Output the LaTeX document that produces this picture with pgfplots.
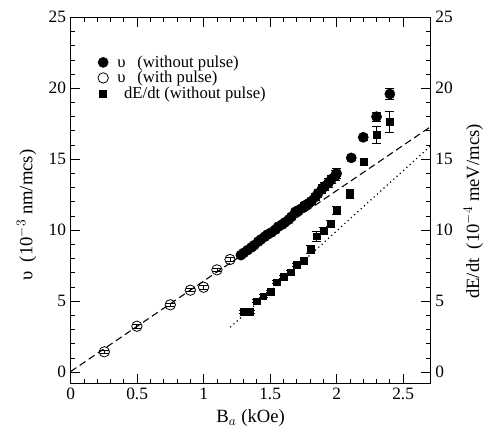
\documentclass[border=0pt]{standalone}
\usepackage{pgfplots}
\pgfplotsset{compat=1.18}
\usepackage{fontspec}
\setmainfont{Liberation Serif}

\pgfplotstableread{
x y ey
1.28 8.25 0.1
1.30 8.40 0.1
1.33 8.60 0.1
1.36 8.80 0.1
1.38 8.95 0.1
1.41 9.20 0.1
1.43 9.35 0.1
1.46 9.55 0.1
1.48 9.70 0.1
1.51 9.85 0.1
1.54 10.05 0.1
1.56 10.25 0.1
1.59 10.40 0.1
1.61 10.55 0.15
1.64 10.75 0.15
1.66 10.95 0.15
1.69 11.30 0.15
1.71 11.40 0.15
1.74 11.55 0.2
1.76 11.75 0.2
1.79 11.90 0.2
1.81 12.05 0.2
1.84 12.35 0.25
1.86 12.60 0.25
1.89 12.90 0.3
1.91 13.10 0.3
1.94 13.35 0.3
1.96 13.60 0.3
1.99 13.85 0.35
2.00 14.00 0.35
2.11 15.10 0.2
2.20 16.55 0.2
2.30 18.00 0.3
2.40 19.60 0.4
}\withoutpulse

\pgfplotstableread{
x y ey
0.253 1.44 0.12
0.498 3.24 0.12
0.749 4.75 0.12
0.900 5.78 0.12
1.000 5.99 0.12
1.100 7.21 0.12
1.198 7.94 0.12
}\withpulse

\pgfplotstableread{
x y ey
1.30 4.23 0.1
1.35 4.23 0.1
1.398 5.00 0.1
1.448 5.35 0.1
1.504 5.70 0.1
1.549 6.34 0.1
1.600 6.72 0.1
1.654 7.04 0.1
1.700 7.58 0.1
1.754 7.87 0.1
1.804 8.64 0.3
1.850 9.58 0.35
1.900 9.98 0.2
1.955 10.47 0.2
2.000 11.40 0.3
2.100 12.58 0.3
2.205 14.85 0.15
2.300 16.74 0.6
2.400 17.63 0.75
}\dEdt

\pgfplotsset{
  myerr/.style={error bars/.cd, y dir=both, y explicit,
    error mark options={rotate=90, mark size=3.3pt, line width=0.6pt, solid},
    error bar style={line width=0.6pt, solid}},
}

\begin{document}
\begin{tikzpicture}
\begin{axis}[
  name=main,
  scale only axis, width=270pt, height=274.7pt,
  xmin=0, xmax=2.707, ymin=-0.8, ymax=25,
  xtick={0,0.5,1,1.5,2,2.5}, ytick={0,5,10,15,20,25},
  minor x tick num=4, minor y tick num=4,
  tick align=inside,
  major tick length=7pt, minor tick length=3.5pt,
  every tick/.style={black, line width=0.6pt},
  axis line style={line width=0.8pt},
  /pgf/number format/assume math mode=true,
  tick label style={font=\fontsize{13}{15}\selectfont},
  xlabel={B$_{a}$ (kOe)},
  ylabel={υ\ \ (10$^{-3}$ nm/mcs)},
  every axis x label/.style={at={(rel axis cs:0.5,0)}, yshift=-29pt, anchor=base, font=\fontsize{14}{16}\selectfont},
  every axis y label/.style={at={(rel axis cs:0,0.46)}, xshift=-33pt, rotate=90, anchor=center, font=\fontsize{14}{16}\selectfont},
  legend cell align=left,
  legend style={draw=none, fill=none, at={(rel axis cs:0.064,0.909)}, anchor=north west,
    font=\fontsize{12.5}{14}\selectfont, row sep=-1.5pt, nodes={inner sep=1.5pt}},
  legend image code/.code={\draw[#1] plot coordinates {(0.15cm,0cm)}; \path (0.15cm,0cm) ++(9pt,0pt);},
]
\addplot[black, dash pattern=on 5.2pt off 3pt, line width=0.8pt, forget plot] coordinates {(0,0.05) (2.707,17.3)};
\addplot[black, dash pattern=on 0.9pt off 2.4pt, line width=0.9pt, forget plot] coordinates {(1.2,3.17) (2.707,15.95)};
\addplot[only marks, mark=*, mark size=3.8pt, black, myerr] table[x=x, y=y, y error=ey] {\withoutpulse};
\addlegendentry{υ\hspace{0.7em}(without pulse)}
\addplot[only marks, mark=o, mark size=3.9pt, black, mark options={line width=0.6pt}, myerr] table[x=x, y=y, y error=ey] {\withpulse};
\addlegendentry{υ\hspace{0.7em}(with pulse)}
\addplot[only marks, mark=square*, mark size=2.6pt, black, myerr] table[x=x, y=y, y error=ey] {\dEdt};
\addlegendentry{\hspace{5pt}dE/dt (without pulse)}
\end{axis}
\begin{axis}[
  scale only axis, width=270pt, height=274.7pt,
  xmin=0, xmax=2.707, ymin=-0.8, ymax=25,
  xtick=\empty, ytick={0,5,10,15,20,25},
  minor y tick num=0,
  major tick length=0pt,
  axis line style={draw=none},
  yticklabel pos=right,
  /pgf/number format/assume math mode=true,
  tick label style={font=\fontsize{13}{15}\selectfont},
  ylabel={dE/dt\ \ (10$^{-4}$ meV/mcs)},
  every axis y label/.style={at={(rel axis cs:1,0.47)}, xshift=32pt, rotate=90, anchor=center, font=\fontsize{14}{16}\selectfont},
]
\end{axis}
\pgfresetboundingbox
\path ([shift={(-53pt,-35pt)}]main.south west) rectangle ([shift={(40pt,13pt)}]main.north east);
\end{tikzpicture}
\end{document}
